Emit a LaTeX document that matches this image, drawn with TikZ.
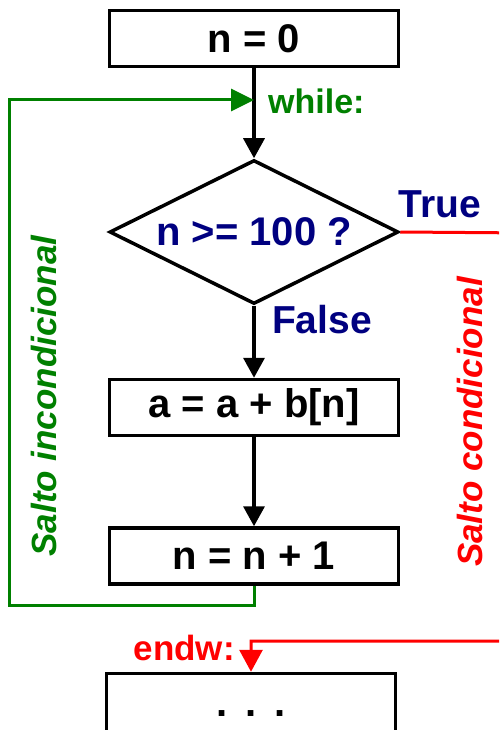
\documentclass[tikz,border=0pt]{standalone}
\usepackage{fontspec}
\setmainfont{Liberation Sans}
\usetikzlibrary{shapes.geometric,arrows.meta}
\definecolor{dgreen}{RGB}{0,128,0}
\definecolor{navy}{RGB}{0,0,128}
\definecolor{bred}{RGB}{255,0,0}
\begin{document}
\begin{tikzpicture}[x=1pt,y=-1pt,
  box/.style={draw,line width=3.5pt,minimum width=289pt,minimum height=56pt,inner sep=0pt,font=\fontsize{40}{44}\selectfont\bfseries},
  cond/.style={draw,diamond,aspect=2,line width=3.5pt,minimum width=289pt,minimum height=144pt,inner sep=0pt,text=navy,font=\fontsize{40}{44}\selectfont\bfseries},
  flow/.style={line width=3.5pt,-{Triangle[length=20pt,width=21pt]}},
  gline/.style={dgreen,line width=3pt},
  rline/.style={bred,line width=3pt},
  lbl/.style={inner sep=0pt,font=\fontsize{#1}{#1}\selectfont\bfseries},
  lbl/.default=38,
  vlbl/.style={inner sep=0pt,rotate=90,font=\fontsize{35}{35}\selectfont\bfseries\itshape}
]
\useasboundingbox (0,0) rectangle (499,730);
\clip (0,0) rectangle (499,730);

\node[box] (n0) at (254,38.5) {n = 0};
\node[cond] (d) at (254,232) {n >= 100 ?};
\node[box] (a) at (254,407.5) {a = a + b[n]};
\node[box] (n1) at (254,556) {n = n + 1};
\node[box,minimum height=81pt] (e) at (251,714) {};
\node[inner sep=0pt,font=\fontsize{40}{40}\selectfont\bfseries] (dots) at (251,714) {.\hspace{18pt}.\hspace{18pt}.};

\coordinate (wh) at (254,100);
\coordinate (gl) at (9,605);
\coordinate (rr) at (530,233);
\coordinate (rb) at (530,641);

\draw[flow] (n0.south) -- (d.north);
\draw[flow] (d.south) -- (a.north);
\draw[flow] (a.south) -- (n1.north);

\draw[gline,-{Triangle[length=23pt,width=22pt]}] (n1.south) |- (gl) |- (wh);
\draw[rline,-{Triangle[length=22pt,width=23pt]}] (d.east) -- (rr) -- (rb) -| (e.north);

\node[lbl=34,text=dgreen,anchor=west] (wl) at (268,101) {while:};
\node[lbl=35,text=bred,anchor=east] (el) at (235,648) {endw:};
\node[lbl=39,text=navy] (tl) at (440,204) {True};
\node[lbl=39,text=navy] (fl) at (322,320) {False};
\node[vlbl,text=dgreen] (si) at (44,396) {Salto incondicional};
\node[vlbl,text=bred] (sc) at (470,422) {Salto condicional};
\end{tikzpicture}
\end{document}
